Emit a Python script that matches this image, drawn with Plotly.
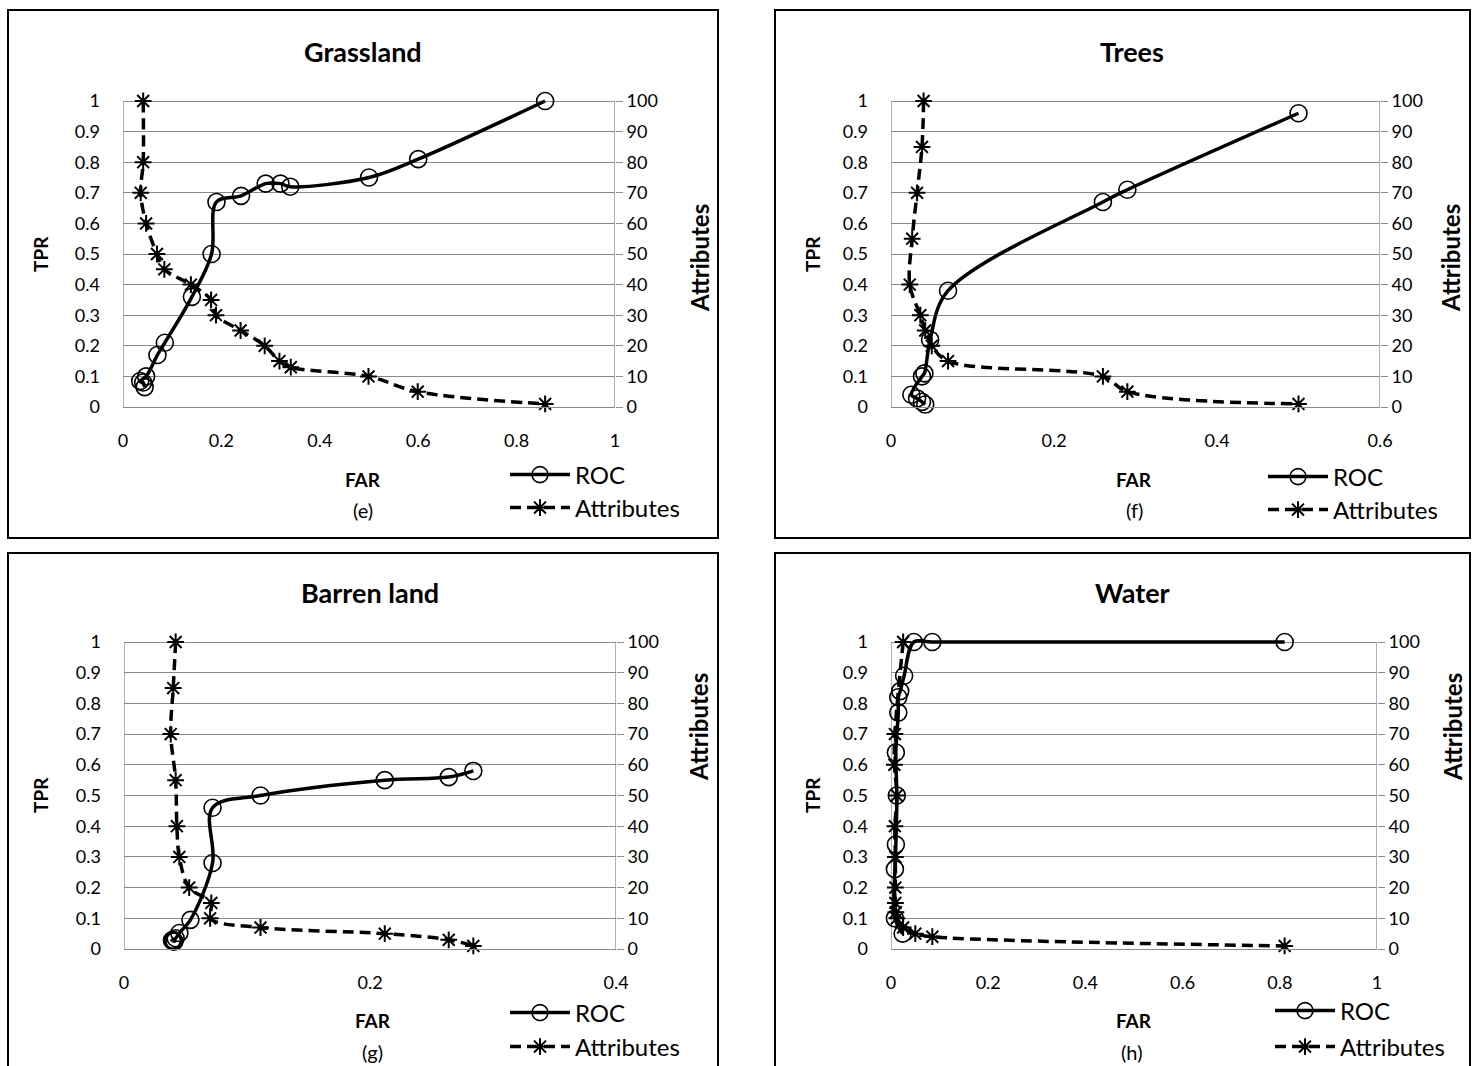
import plotly.graph_objects as go

W, H = 1472, 1066
FONT = "Lato"

# ---- (e) Grassland ----
grass_roc_far = [0.858, 0.60, 0.50, 0.34, 0.32, 0.29, 0.24, 0.19, 0.18, 0.14, 0.085, 0.07, 0.047, 0.035, 0.041, 0.044]
grass_roc_tpr = [1.00, 0.81, 0.75, 0.72, 0.73, 0.73, 0.69, 0.67, 0.50, 0.36, 0.21, 0.17, 0.10, 0.085, 0.08, 0.065]
grass_att_far = [0.041, 0.041, 0.036, 0.047, 0.069, 0.084, 0.138, 0.179, 0.189, 0.239, 0.288, 0.318, 0.341, 0.499, 0.599, 0.858]
grass_att_n = [100, 80, 70, 60, 50, 45, 40, 35, 30, 25, 20, 15, 13, 10, 5, 1]

# ---- (f) Trees ----
trees_roc_far = [0.50, 0.29, 0.26, 0.07, 0.048, 0.041, 0.038, 0.025, 0.032, 0.038, 0.042]
trees_roc_tpr = [0.96, 0.71, 0.67, 0.38, 0.22, 0.11, 0.10, 0.04, 0.028, 0.017, 0.008]
trees_att_far = [0.040, 0.038, 0.032, 0.026, 0.023, 0.036, 0.042, 0.050, 0.070, 0.26, 0.29, 0.50]
trees_att_n = [100, 85, 70, 55, 40, 30, 25, 20, 15, 10, 5, 1]

# ---- (g) Barren land ----
barren_roc_far = [0.284, 0.264, 0.212, 0.111, 0.072, 0.072, 0.054, 0.045, 0.042, 0.040, 0.039, 0.041, 0.040]
barren_roc_tpr = [0.58, 0.56, 0.55, 0.50, 0.46, 0.28, 0.095, 0.052, 0.035, 0.03, 0.028, 0.025, 0.025]
barren_att_far = [0.042, 0.040, 0.038, 0.042, 0.043, 0.045, 0.053, 0.071, 0.070, 0.111, 0.212, 0.264, 0.284]
barren_att_n = [100, 85, 70, 55, 40, 30, 20, 15, 10, 7, 5, 3, 1]

# ---- (h) Water ----
water_roc_far = [0.81, 0.085, 0.047, 0.027, 0.019, 0.015, 0.015, 0.010, 0.012, 0.010, 0.008, 0.008, 0.024]
water_roc_tpr = [1.00, 1.00, 1.00, 0.89, 0.84, 0.82, 0.77, 0.64, 0.50, 0.34, 0.26, 0.10, 0.05]
water_att_far = [0.025, 0.008, 0.007, 0.012, 0.008, 0.009, 0.009, 0.009, 0.010, 0.012, 0.025, 0.050, 0.085, 0.81]
water_att_n = [100, 70, 60, 50, 40, 30, 20, 15, 12, 10, 7, 5, 4, 1]

tpr_ticks = [0, 0.1, 0.2, 0.3, 0.4, 0.5, 0.6, 0.7, 0.8, 0.9, 1]
tpr_labels = ["0", "0.1", "0.2", "0.3", "0.4", "0.5", "0.6", "0.7", "0.8", "0.9", "1"]
att_ticks = [0, 10, 20, 30, 40, 50, 60, 70, 80, 90, 100]

panels = [
    dict(title="Grassland", tag="(e)", xmax=1.0,
         roc=(grass_roc_far, grass_roc_tpr), att=(grass_att_far, grass_att_n)),
    dict(title="Trees", tag="(f)", xmax=0.6,
         roc=(trees_roc_far, trees_roc_tpr), att=(trees_att_far, trees_att_n)),
    dict(title="Barren land", tag="(g)", xmax=0.4,
         roc=(barren_roc_far, barren_roc_tpr), att=(barren_att_far, barren_att_n)),
    dict(title="Water", tag="(h)", xmax=1.0,
         roc=(water_roc_far, water_roc_tpr), att=(water_att_far, water_att_n)),
]

# page layout in pixels: outer box, plot area, text anchors
frames = [
    dict(box=(8, 10, 718, 538), plot=(123, 101, 615, 407), title=(363, 51), tpr=(40, 254),
         attr=(700, 258), far=(363, 479), tag=(363, 510), leg=(505, 475, 508)),
    dict(box=(775, 10, 1470, 538), plot=(891, 101, 1380, 407), title=(1132, 51), tpr=(812, 254),
         attr=(1451, 258), far=(1134, 479), tag=(1134, 510), leg=(1263, 477, 510)),
    dict(box=(8, 553, 718, 1075), plot=(124, 642, 616, 949), title=(370, 592), tpr=(40, 795),
         attr=(698, 727), far=(373, 1020), tag=(373, 1052), leg=(505, 1013, 1047)),
    dict(box=(775, 553, 1470, 1075), plot=(891, 642, 1377, 949), title=(1132, 592), tpr=(812, 795),
         attr=(1452, 727), far=(1134, 1020), tag=(1132, 1052), leg=(1270, 1011, 1047)),
]

TOP = 1.01  # small headroom so lines along TPR = 1 are not clipped


def px(x):
    return x / W


def py(y):
    return 1 - y / H


GRID = "#8a8a8a"
fig = go.Figure()
layout = dict(
    width=W, height=H, margin=dict(l=0, r=0, t=0, b=0, pad=0, autoexpand=False),
    paper_bgcolor="white", plot_bgcolor="white", showlegend=True,
    font=dict(family=FONT, size=18, color="black"),
)
annotations = []
shapes = []

for i, (p, f) in enumerate(zip(panels, frames), start=1):
    xa = "x" if i == 1 else f"x{i}"
    ya = "y" if i == 1 else f"y{i}"
    ya2 = f"y{i + 4}"
    sfx = "" if i == 1 else str(i)
    x0, y0, x1, y1 = f["plot"]
    top_px = y0 - (TOP - 1) * (y1 - y0)

    layout[f"xaxis{sfx}"] = dict(
        domain=[px(x0), px(x1)], anchor=ya, range=[0, p["xmax"]], dtick=0.2,
        showgrid=False, zeroline=False, showline=True, linecolor=GRID, linewidth=1.3,
        ticks="", ticklabelstandoff=17, tickfont=dict(size=18, family=FONT),
        fixedrange=True,
    )
    layout[f"yaxis{sfx}"] = dict(
        domain=[py(y1), py(top_px)], anchor=xa, range=[0, TOP], tickvals=tpr_ticks, ticktext=tpr_labels,
        showgrid=True, gridcolor=GRID, gridwidth=1.3, zeroline=False,
        showline=False, ticks="", ticklabelstandoff=22,
        tickfont=dict(size=18, family=FONT), fixedrange=True,
    )
    layout[f"yaxis{i + 4}"] = dict(
        overlaying=ya, anchor=xa, side="right", range=[0, 100 * TOP], tickvals=att_ticks,
        showgrid=False, zeroline=False, showline=False,
        ticks="outside", ticklen=7, tickcolor=GRID, tickwidth=1.3, ticklabelstandoff=0,
        tickfont=dict(size=18, family=FONT), fixedrange=True,
    )
    # left and right axis lines spanning 0..1
    for xv in (0, p["xmax"]):
        shapes.append(dict(type="line", xref=xa, yref=ya, x0=xv, x1=xv, y0=0, y1=1,
                           line=dict(color=GRID, width=1.3), layer="below"))

    leg_roc = "legend" if i == 1 else f"legend{2 * i - 1}"
    leg_att = f"legend{2 * i}"
    lx, ly_roc, ly_att = f["leg"]
    for key, yy in ((leg_roc, ly_roc), (leg_att, ly_att)):
        layout[key] = dict(
            x=px(lx), y=py(yy), xanchor="left", yanchor="middle", visible=True,
            bgcolor="rgba(0,0,0,0)", borderwidth=0, itemwidth=60,
            font=dict(size=24, family=FONT, color="black"),
        )

    fig.add_trace(go.Scatter(
        x=p["roc"][0], y=p["roc"][1], xaxis=xa, yaxis=ya, name="ROC", showlegend=True,
        mode="lines+markers", line=dict(color="black", width=3.5, shape="spline"),
        marker=dict(symbol="circle-open", size=17, color="black", line=dict(width=1.6)),
        cliponaxis=False, legend=leg_roc,
    ))
    fig.add_trace(go.Scatter(
        x=p["att"][0], y=p["att"][1], xaxis=xa, yaxis=ya2, name="Attributes", showlegend=True,
        mode="lines+markers", line=dict(color="black", width=3.5, dash="11px,6px", shape="spline"),
        marker=dict(symbol="asterisk-open", size=14, color="black", line=dict(width=2, color="black")),
        cliponaxis=False, legend=leg_att,
    ))

    bx0, by0, bx1, by1 = f["box"]
    shapes.append(dict(type="rect", xref="paper", yref="paper",
                       x0=px(bx0), x1=px(bx1), y0=py(by1), y1=py(by0),
                       line=dict(color="black", width=2), fillcolor="rgba(0,0,0,0)"))

    def note(text, pos, size=18, bold=False, angle=0):
        annotations.append(dict(
            text=f"<b>{text}</b>" if bold else text, x=px(pos[0]), y=py(pos[1]),
            xref="paper", yref="paper", showarrow=False, xanchor="center", yanchor="middle",
            textangle=angle, font=dict(size=size, family=FONT, color="black"),
        ))

    note(p["title"], f["title"], size=27, bold=True)
    note("TPR", f["tpr"], size=19, bold=True, angle=-90)
    note("Attributes", f["attr"], size=24, bold=True, angle=-90)
    note("FAR", f["far"], size=19, bold=True)
    note(p["tag"], f["tag"], size=20)

layout["annotations"] = annotations
layout["shapes"] = shapes
fig.update_layout(**layout)
fig.write_html("out.html")
